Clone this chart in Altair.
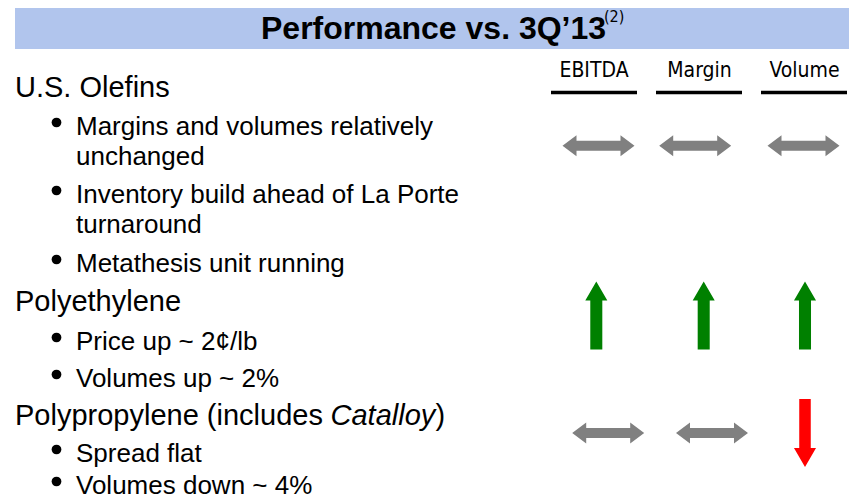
import altair as alt
import pandas as pd

# ---------------- content ----------------
title_text = "Performance vs. 3Q\u201913"
title_note = "(2)"
metrics = ["EBITDA", "Margin", "Volume"]
segments = ["U.S. Olefins", "Polyethylene", "Polypropylene"]
dir_olefins = ["flat", "flat", "flat"]
dir_polyethylene = ["up", "up", "up"]
dir_polypropylene = ["flat", "flat", "down"]

line_texts = [
    "U.S. Olefins",
    "Margins and volumes relatively",
    "unchanged",
    "Inventory build ahead of La Porte",
    "turnaround",
    "Metathesis unit running",
    "Polyethylene",
    "Price up ~ 2\u00a2/lb",
    "Volumes up ~ 2%",
    "Polypropylene (includes ",
    "Spread flat",
    "Volumes down ~ 4%",
]
line_kinds = ["heading", "bullet", "cont", "bullet", "cont", "bullet",
              "heading", "bullet", "bullet", "heading", "bullet", "bullet"]
italic_word = "Catalloy"
closing = ")"

# ---------------- layout (slide coordinates, px) ----------------
line_baseline = [97, 135, 165, 203, 233, 272, 311, 350, 387, 425, 462, 494]
header_x = [594, 699.5, 804.5]
underline_x1 = [551, 656, 761]
underline_x2 = [637, 742, 847]
arrow_row_y = {"U.S. Olefins": 145.7, "Polyethylene": 315.5, "Polypropylene": 433}
arrow_x = {
    "U.S. Olefins": [598.5, 695.2, 803.5],
    "Polyethylene": [596.3, 703.7, 805],
    "Polypropylene": [608.2, 712, 805],
}

FONT = "Liberation Sans"
NARROW = "Liberation Sans Narrow, Arial Narrow, DejaVu Sans Condensed, Liberation Sans"

# page is 864x504 with an 8px margin: the drawing area covers x 8..856, y 8..496
xs = alt.Scale(domain=[8, 856], nice=False, zero=False)
ys = alt.Scale(domain=[8, 496], nice=False, zero=False, reverse=True)

def X(f):
    return alt.X(f, type="quantitative", scale=xs, axis=None)

def Y(f):
    return alt.Y(f, type="quantitative", scale=ys, axis=None)

# title band
band = alt.Chart(pd.DataFrame({"x": [15], "x2": [849], "y": [5], "y2": [49]})).mark_rect(
    color="#B1C5ED").encode(x=X("x"), x2="x2", y=Y("y"), y2="y2")

title = alt.Chart(pd.DataFrame({"t": [title_text], "x": [261], "y": [39]})).mark_text(
    align="left", baseline="alphabetic", font=FONT, fontSize=32, fontWeight="bold", color="black"
).encode(x=X("x"), y=Y("y"), text="t:N")

note = alt.Chart(pd.DataFrame({"t": [title_note], "x": [604], "y": [22]})).mark_text(
    align="left", baseline="alphabetic", font=NARROW, fontSize=16, color="black"
).encode(x=X("x"), y=Y("y"), text="t:N")

# column headers + underlines
hdr_df = pd.DataFrame({"t": metrics, "x": header_x, "y": [77] * 3,
                       "x1": underline_x1, "x2": underline_x2, "yl": [92.5] * 3})
headers = alt.Chart(hdr_df).mark_text(
    align="center", baseline="alphabetic", font=NARROW, fontSize=21, color="black"
).encode(x=X("x"), y=Y("y"), text="t:N")
underlines = alt.Chart(hdr_df).mark_rule(color="black", strokeWidth=3.3).encode(
    x=X("x1"), x2="x2", y=Y("yl"))

# text lines
lines_df = pd.DataFrame({"t": line_texts, "kind": line_kinds, "y": line_baseline})
lines_df["x"] = [15 if k == "heading" else 76 for k in line_kinds]

heads = alt.Chart(lines_df[lines_df.kind == "heading"]).mark_text(
    align="left", baseline="alphabetic", font=FONT, fontSize=29, color="black"
).encode(x=X("x"), y=Y("y"), text="t:N")
bodies = alt.Chart(lines_df[lines_df.kind != "heading"]).mark_text(
    align="left", baseline="alphabetic", font=FONT, fontSize=26, color="black"
).encode(x=X("x"), y=Y("y"), text="t:N")

bul_df = lines_df[lines_df.kind == "bullet"].copy()
bul_df["bx"] = 56.5
bul_df["by"] = bul_df["y"] - 12.5
bullets = alt.Chart(bul_df).mark_point(
    shape="circle", filled=True, size=95, color="black", opacity=1
).encode(x=X("bx"), y=Y("by"))

pp_y = line_baseline[line_texts.index("Polypropylene (includes ")]
ital = alt.Chart(pd.DataFrame({"t": [italic_word], "x": [330.5], "y": [pp_y]})).mark_text(
    align="left", baseline="alphabetic", font=FONT, fontSize=29, fontStyle="italic", color="black"
).encode(x=X("x"), y=Y("y"), text="t:N")
close = alt.Chart(pd.DataFrame({"t": [closing], "x": [435.5], "y": [pp_y]})).mark_text(
    align="left", baseline="alphabetic", font=FONT, fontSize=29, color="black"
).encode(x=X("x"), y=Y("y"), text="t:N")

# arrows
rows = []
for seg, dirs in zip(segments, [dir_olefins, dir_polyethylene, dir_polypropylene]):
    for m, d, ax in zip(metrics, dirs, arrow_x[seg]):
        rows.append({"segment": seg, "metric": m, "direction": d,
                     "x": ax, "y": arrow_row_y[seg]})
arrow_df = pd.DataFrame(rows)

p_flat = ("M-1,0 L-0.611,-0.292 L-0.611,-0.139 L0.611,-0.139 L0.611,-0.292 L1,0 "
          "L0.611,0.292 L0.611,0.139 L-0.611,0.139 L-0.611,0.292 Z")
p_up = ("M0,-0.944 L0.306,-0.417 L0.167,-0.417 L0.167,0.944 L-0.167,0.944 "
        "L-0.167,-0.417 L-0.306,-0.417 Z")
p_down = ("M0,0.944 L0.306,0.417 L0.16,0.417 L0.16,-0.944 L-0.16,-0.944 "
          "L-0.16,0.417 L-0.306,0.417 Z")

arrows = alt.Chart(arrow_df).mark_point(filled=True, opacity=1, size=5184, strokeWidth=0).encode(
    x=X("x"), y=Y("y"),
    shape=alt.Shape("direction:N", scale=alt.Scale(domain=["flat", "up", "down"],
                                                   range=[p_flat, p_up, p_down]), legend=None),
    color=alt.Color("direction:N", scale=alt.Scale(domain=["flat", "up", "down"],
                                                   range=["#808080", "#008000", "#FF0000"]), legend=None),
)

chart = alt.layer(band, title, note, underlines, headers, heads, bodies, bullets, ital, close, arrows).properties(
    width=848, height=488, padding=0, autosize="none", background="white"
).configure_view(stroke=None)

chart.save("out.html", embed_options={"renderer": "svg", "actions": False})
